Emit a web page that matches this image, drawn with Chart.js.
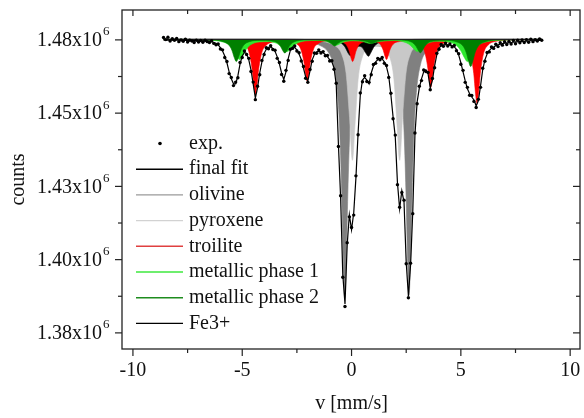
<!DOCTYPE html>
<html>
<head>
<meta charset="utf-8">
<script src="https://cdn.jsdelivr.net/npm/chart.js@4.4.1/dist/chart.umd.min.js"></script>
<style>
  html, body { margin: 0; padding: 0; background: #fff; }
  #wrap { width: 584px; height: 418px; }
</style>
</head>
<body>
<div id="wrap"><canvas id="spectrum" width="584" height="418"></canvas></div>
<script>
// velocity channels [mm/s]
const velocity = [
  -8.6,-8.5,-8.4,-8.3,-8.2,-8.1,-8.0,-7.9,-7.8,-7.7,
  -7.6,-7.5,-7.4,-7.3,-7.2,-7.1,-7.0,-6.9,-6.8,-6.7,
  -6.6,-6.5,-6.4,-6.3,-6.2,-6.1,-6.0,-5.9,-5.8,-5.7,
  -5.6,-5.5,-5.4,-5.3,-5.2,-5.1,-5.0,-4.9,-4.8,-4.7,
  -4.6,-4.5,-4.4,-4.3,-4.2,-4.1,-4.0,-3.9,-3.8,-3.7,
  -3.6,-3.5,-3.4,-3.3,-3.2,-3.1,-3.0,-2.9,-2.8,-2.7,
  -2.6,-2.5,-2.4,-2.3,-2.2,-2.1,-2.0,-1.9,-1.8,-1.7,
  -1.6,-1.5,-1.4,-1.3,-1.2,-1.1,-1.0,-0.9,-0.8,-0.7,
  -0.6,-0.5,-0.4,-0.3,-0.2,-0.1,0.0,0.1,0.2,0.3,
  0.4,0.5,0.6,0.7,0.8,0.9,1.0,1.1,1.2,1.3,
  1.4,1.5,1.6,1.7,1.8,1.9,2.0,2.1,2.2,2.3,
  2.4,2.5,2.6,2.7,2.8,2.9,3.0,3.1,3.2,3.3,
  3.4,3.5,3.6,3.7,3.8,3.9,4.0,4.1,4.2,4.3,
  4.4,4.5,4.6,4.7,4.8,4.9,5.0,5.1,5.2,5.3,
  5.4,5.5,5.6,5.7,5.8,5.9,6.0,6.1,6.2,6.3,
  6.4,6.5,6.6,6.7,6.8,6.9,7.0,7.1,7.2,7.3,
  7.4,7.5,7.6,7.7,7.8,7.9,8.0,8.1,8.2,8.3,
  8.4,8.5,8.6,8.7
];

// measured counts, in units of 10^3
const expCounts = [
  1475.8,1475.1,1475.9,1474.6,1475.4,1474.9,1475.5,1474.4,1475.0,1474.5,
  1475.2,1474.3,1474.9,1474.6,1474.1,1474.9,1474.3,1474.8,1474.2,1474.9,
  1474.4,1474.1,1474.7,1473.8,1473.3,1473.6,1471.9,1471.6,1469.0,1467.6,
  1463.5,1462.2,1459.4,1460.6,1462.1,1467.3,1469.0,1471.2,1470.0,1468.7,
  1464.2,1460.6,1454.6,1459.2,1463.1,1468.0,1470.0,1472.3,1472.0,1473.0,
  1471.7,1471.5,1468.7,1467.3,1463.2,1460.9,1464.6,1468.0,1471.8,1472.1,
  1472.9,1471.2,1470.6,1467.8,1465.9,1461.9,1460.5,1464.9,1467.7,1470.5,
  1470.4,1471.6,1470.5,1471.0,1469.6,1469.7,1467.8,1467.9,1465.0,1460.2,
  1438.6,1421.8,1394.0,1384.0,1405.8,1414.6,1411.0,1415.2,1428.6,1442.6,
  1456.9,1460.7,1462.8,1460.8,1460.5,1463.1,1466.6,1467.0,1468.7,1468.2,
  1469.0,1467.0,1466.3,1462.2,1456.8,1448.1,1442.5,1425.6,1417.9,1422.9,
  1420.3,1398.6,1387.0,1398.8,1415.7,1443.2,1453.2,1459.2,1461.1,1464.7,
  1464.2,1463.9,1458.0,1461.8,1465.5,1470.4,1471.8,1473.4,1472.8,1473.9,
  1472.9,1473.6,1472.6,1473.1,1471.3,1470.3,1466.7,1464.6,1460.5,1458.8,
  1456.1,1456.0,1454.0,1451.9,1454.7,1458.8,1465.3,1467.7,1470.7,1470.9,
  1472.6,1472.1,1473.5,1472.7,1474.0,1473.2,1474.4,1473.4,1474.5,1473.6,
  1474.8,1473.7,1474.9,1474.0,1475.0,1474.1,1475.1,1474.2,1475.2,1474.4,
  1475.1,1474.6,1475.3,1474.9
];

const fitCounts = [
  1474.9,1474.9,1474.9,1474.9,1474.9,1474.9,1474.9,1474.9,1474.8,1474.8,
  1474.8,1474.8,1474.8,1474.8,1474.8,1474.8,1474.7,1474.7,1474.7,1474.6,
  1474.6,1474.6,1474.4,1474.1,1473.8,1473.3,1472.4,1471.2,1469.5,1467.2,
  1464.1,1461.7,1460.0,1460.0,1462.7,1466.8,1469.5,1470.7,1470.4,1468.2,
  1464.8,1460.0,1455.2,1458.6,1463.7,1467.5,1470.4,1471.8,1472.5,1472.6,
  1472.1,1471.1,1469.2,1466.8,1463.7,1461.5,1464.1,1468.5,1471.4,1472.6,
  1472.4,1471.6,1470.2,1468.3,1465.4,1462.4,1461.0,1464.4,1468.2,1470.0,
  1470.9,1471.1,1470.9,1470.6,1470.0,1469.2,1468.3,1467.5,1465.4,1459.6,
  1439.2,1421.1,1394.8,1384.9,1405.0,1415.3,1410.2,1416.0,1427.9,1443.3,
  1456.2,1461.3,1462.2,1461.3,1460.0,1463.7,1466.1,1467.5,1468.2,1468.7,
  1468.5,1467.5,1465.8,1462.7,1456.2,1448.7,1441.9,1426.2,1417.3,1423.5,
  1419.7,1399.2,1387.6,1398.2,1416.3,1442.6,1453.8,1458.6,1461.7,1464.1,
  1464.8,1463.4,1458.6,1461.3,1466.1,1469.9,1472.3,1472.9,1473.3,1473.4,
  1473.3,1473.2,1473.0,1472.6,1471.8,1469.9,1467.2,1464.1,1461.0,1458.3,
  1456.6,1455.5,1454.5,1452.5,1454.2,1459.3,1464.8,1468.2,1470.2,1471.4,
  1472.1,1472.6,1473.0,1473.3,1473.5,1473.7,1473.9,1474.0,1474.0,1474.1,
  1474.2,1474.3,1474.3,1474.4,1474.5,1474.5,1474.6,1474.6,1474.7,1474.7,
  1474.7,1474.8,1474.8,1474.8
];

// off-resonance level the subspectra hang from
const baseline = 1475.2;

// subspectra
const olivineV = [-8.6,-5.0,-3.0,-2.0,-1.5,-1.0,-0.8,-0.65,-0.55,-0.45,-0.38,-0.31,-0.24,-0.17,-0.07,0.03,0.2,0.5,0.8,1.15,
  1.5,1.8,2.1,2.28,2.39,2.49,2.56,2.63,2.70,2.77,2.87,2.98,3.15,3.45,4.0,5.0,6.5,8.7];
const olivineC = [1475.1,1475.0,1474.8,1474.2,1473.3,1470.0,1465.6,1457.4,1445.6,1422.6,1399.8,1387.0,1399.7,1422.5,1445.6,1457.4,1466.0,1470.9,1472.4,1472.9,
  1472.5,1471.1,1466.6,1458.1,1445.7,1422.9,1400.4,1387.8,1400.4,1422.9,1445.7,1458.2,1466.5,1471.3,1473.7,1474.6,1475.0,1475.1];

const pyroxeneV = [-8.6,-3.05,-1.55,-1.05,-0.65,-0.45,-0.25,-0.1,0.04,0.15,0.3,0.5,0.8,1.12,
  1.44,1.74,1.94,2.09,2.2,2.34,2.49,2.69,2.89,3.29,3.79,5.29,8.7];
const pyroxeneC = [1475.2,1475.0,1474.6,1474.0,1472.4,1470.1,1463.6,1449.4,1433.9,1445.1,1461.5,1469.3,1472.3,1472.9,
  1472.3,1469.3,1461.5,1445.1,1433.9,1449.4,1463.6,1470.1,1472.4,1474.0,1474.6,1475.0,1475.2];

const troiliteV = [-8.6,-6.0,-5.2,-4.9,-4.7,-4.55,-4.47,-4.4,-4.33,-4.25,-4.1,-3.9,-3.6,-3.2,-2.8,
  -2.53,-2.33,-2.18,-2.1,-2.03,-1.96,-1.88,-1.73,-1.53,-1.2,-0.8,
  -0.45,-0.25,-0.1,-0.02,0.05,0.12,0.2,0.35,0.55,0.82,
  1.1,1.3,1.45,1.53,1.6,1.67,1.75,1.9,2.1,2.6,
  3.12,3.32,3.47,3.55,3.62,3.69,3.77,3.92,4.12,4.5,4.9,
  5.24,5.44,5.59,5.67,5.74,5.81,5.89,6.04,6.24,6.6,7.3,8.7];
const troiliteC = [1475.1,1475.0,1474.4,1473.4,1471.0,1465.1,1459.4,1456.3,1459.3,1465.0,1470.8,1473.2,1474.3,1474.6,1474.4,
  1473.7,1472.0,1467.6,1463.2,1460.9,1463.2,1467.6,1472.0,1473.7,1474.6,1474.7,
  1474.4,1473.4,1471.1,1468.8,1467.6,1468.8,1471.1,1473.4,1474.3,1474.6,
  1474.4,1473.6,1471.5,1469.4,1468.3,1469.4,1471.5,1473.5,1474.3,1474.6,
  1473.6,1471.5,1466.4,1461.4,1458.7,1461.4,1466.4,1471.4,1473.4,1474.3,1474.2,
  1473.0,1470.3,1463.5,1456.8,1453.3,1456.8,1463.6,1470.4,1473.2,1474.5,1475.0,1475.1];

const metal1V = [-8.6,-6.62,-6.02,-5.62,-5.42,-5.27,-5.12,-4.97,-4.82,-4.62,-4.22,
  -3.75,-3.45,-3.25,-3.1,-2.95,-2.8,-2.65,-2.45,-2.05,
  -1.62,-1.22,-1.02,-0.87,-0.72,-0.57,-0.42,-0.22,0.07,
  0.35,0.55,0.7,0.85,1.0,1.15,1.35,1.95,
  2.5,2.7,2.85,3.0,3.15,3.3,3.5,3.9,
  4.4,4.8,5.0,5.15,5.3,5.45,5.6,5.8,6.2,6.8,8.7];
const metal1C = [1475.1,1474.9,1474.5,1473.4,1471.8,1469.7,1468.3,1469.7,1471.7,1473.3,1474.3,
  1474.4,1473.9,1473.0,1471.8,1471.0,1471.8,1473.0,1474.0,1474.7,
  1474.8,1474.6,1474.1,1473.5,1473.1,1473.5,1474.1,1474.5,1474.7,
  1474.6,1474.4,1474.0,1473.8,1474.0,1474.3,1474.5,1474.8,
  1474.0,1473.1,1471.9,1471.0,1471.8,1473.0,1473.9,1474.5,
  1474.3,1473.1,1471.3,1469.1,1467.6,1469.1,1471.4,1473.2,1474.4,1474.9,1475.1];

const metal2V = [-8.6,-6.5,-5.87,-5.62,-5.47,-5.37,-5.27,-5.17,-5.07,-4.92,-4.67,
  -4.2,-3.65,-3.4,-3.25,-3.15,-3.05,-2.95,-2.85,-2.7,-2.45,
  -1.9,-1.38,-1.13,-0.98,-0.88,-0.78,-0.68,-0.58,-0.43,-0.18,
  0.07,0.32,0.57,0.72,0.82,0.92,1.02,1.12,1.27,1.52,
  2.0,2.55,2.8,2.95,3.05,3.15,3.25,3.35,3.5,3.75,
  4.3,4.85,5.1,5.25,5.35,5.45,5.55,5.65,5.8,6.05,6.5,7.5,8.7];
const metal2C = [1475.2,1475.0,1474.4,1473.3,1471.4,1469.1,1467.6,1469.1,1471.3,1473.3,1474.4,
  1474.8,1474.6,1474.0,1472.8,1471.4,1470.5,1471.4,1472.8,1474.0,1474.7,
  1475.0,1474.9,1474.6,1474.0,1473.4,1472.9,1473.4,1474.0,1474.6,1474.9,
  1475.0,1474.9,1474.6,1474.4,1474.0,1473.7,1474.0,1474.4,1474.6,1474.9,
  1475.0,1474.7,1474.0,1472.8,1471.5,1470.6,1471.5,1472.8,1474.0,1474.6,
  1474.8,1474.2,1472.9,1470.6,1467.8,1465.9,1467.8,1470.6,1472.9,1474.2,1474.9,1475.1,1475.2];

const fe3V = [-8.6,-3.0,-1.5,-1.0,-0.7,-0.45,-0.3,-0.15,-0.06,0.05,0.2,0.355,0.5,0.65,0.77,0.9,1.05,1.3,1.6,2.2,3.5,8.7];
const fe3C = [1475.2,1475.2,1475.0,1474.8,1474.5,1473.8,1472.6,1470.4,1469.6,1470.4,1472.2,1472.8,1472.3,1470.5,1469.4,1470.9,1472.9,1474.2,1474.7,1475.0,1475.2,1475.2];

// axes
const xMajorTicks = [-10, -5, 0, 5, 10];
const xMinorTicks = [-7.5, -2.5, 2.5, 7.5];
const yMajorTicks = [1375, 1400, 1425, 1450, 1475];
const yTickLabels = ['1.38', '1.40', '1.43', '1.45', '1.48'];
const yMinorTicks = [1387.5, 1412.5, 1437.5, 1462.5];

const pts = (xs, ys) => xs.map((x, i) => ({ x, y: ys[i] }));

function subspectrum(label, xs, ys, fillColor, legendColor, order) {
  return {
    label, order, legendColor,
    data: pts(xs, ys),
    borderColor: fillColor,
    backgroundColor: fillColor,
    borderWidth: 0.6,
    pointRadius: 0,
    cubicInterpolationMode: 'monotone',
    fill: { value: baseline }
  };
}

const serif = '"Liberation Serif", "Times New Roman", serif';

const frameAndLegend = {
  id: 'frameAndLegend',
  afterDraw(chart) {
    const { ctx, chartArea: a, scales: { x, y } } = chart;
    ctx.save();
    ctx.strokeStyle = '#222';
    ctx.lineWidth = 1.3;
    ctx.strokeRect(a.left, a.top, a.right - a.left, a.bottom - a.top);

    const seg = (x1, y1, x2, y2) => { ctx.beginPath(); ctx.moveTo(x1, y1); ctx.lineTo(x2, y2); ctx.stroke(); };
    ctx.lineWidth = 1.2;
    xMajorTicks.forEach(v => {
      const p = x.getPixelForValue(v);
      seg(p, a.bottom, p, a.bottom + 7);
      seg(p, a.top, p, a.top + 6);
    });
    xMinorTicks.forEach(v => {
      const p = x.getPixelForValue(v);
      seg(p, a.bottom, p, a.bottom + 4);
      seg(p, a.top, p, a.top + 4);
    });
    yMajorTicks.forEach(v => {
      const p = y.getPixelForValue(v);
      seg(a.left - 7, p, a.left, p);
      seg(a.right - 7, p, a.right, p);
    });
    yMinorTicks.forEach(v => {
      const p = y.getPixelForValue(v);
      seg(a.left - 4, p, a.left, p);
      seg(a.right - 4, p, a.right, p);
    });

    ctx.fillStyle = '#111';
    ctx.font = '20px ' + serif;
    ctx.textAlign = 'center';
    ctx.textBaseline = 'middle';
    xMajorTicks.forEach(v => ctx.fillText(String(v), x.getPixelForValue(v), a.bottom + 22));

    yMajorTicks.forEach((v, i) => {
      const p = y.getPixelForValue(v);
      ctx.font = '20px ' + serif;
      ctx.textAlign = 'right';
      ctx.fillText(yTickLabels[i] + 'x10', a.left - 20, p + 1);
      ctx.font = '13px ' + serif;
      ctx.textAlign = 'left';
      ctx.fillText('6', a.left - 19, p - 8);
    });

    ctx.font = '20px ' + serif;
    ctx.textAlign = 'center';
    ctx.fillText('v [mm/s]', x.getPixelForValue(0), a.bottom + 55);
    ctx.save();
    ctx.translate(19, (a.top + a.bottom) / 2);
    ctx.rotate(-Math.PI / 2);
    ctx.fillText('counts', 0, 0);
    ctx.restore();

    // legend inside the frame
    const rows = chart.data.datasets.filter(d => d.legendColor);
    rows.forEach((d, i) => {
      const ry = 143.5 + i * 25.7;
      ctx.strokeStyle = d.legendColor;
      ctx.fillStyle = d.legendColor;
      if (d.showLine === false) {
        ctx.beginPath(); ctx.arc(160, ry, 1.8, 0, Math.PI * 2); ctx.fill();
      } else {
        ctx.lineWidth = 1.4;
        seg(136, ry, 183, ry);
      }
      ctx.fillStyle = '#111';
      ctx.textAlign = 'left';
      ctx.font = '20px ' + serif;
      ctx.fillText(d.label, 189, ry);
    });
    ctx.restore();
  }
};

new Chart(document.getElementById('spectrum'), {
  type: 'line',
  data: {
    datasets: [
      {
        label: 'exp.', order: 0, legendColor: '#000',
        data: pts(velocity, expCounts),
        showLine: false, pointRadius: 1.7, pointBorderWidth: 0,
        pointBackgroundColor: '#000', borderColor: '#000'
      },
      {
        label: 'final fit', order: 1, legendColor: '#000',
        data: pts(velocity, fitCounts),
        borderColor: '#000', borderWidth: 1.2, pointRadius: 0, tension: 0, fill: false
      },
      subspectrum('olivine', olivineV, olivineC, '#808080', '#9a9a9a', 8),
      subspectrum('pyroxene', pyroxeneV, pyroxeneC, '#c8c8c8', '#d2d2d2', 7),
      subspectrum('troilite', troiliteV, troiliteC, '#ff0000', '#e04040', 5),
      subspectrum('metallic phase 1', metal1V, metal1C, '#2ee82e', '#3ee83e', 4),
      subspectrum('metallic phase 2', metal2V, metal2C, '#008000', '#1e8c1e', 3),
      subspectrum('Fe3+', fe3V, fe3C, '#000000', '#000', 6),
      {
        label: 'baseline', order: 2,
        data: pts([velocity[0], velocity[velocity.length - 1]], [baseline, baseline]),
        borderColor: '#222', borderWidth: 1.2, pointRadius: 0, fill: false
      }
    ]
  },
  options: {
    responsive: false,
    animation: false,
    events: [],
    layout: { padding: { left: 122, right: 1, top: 10, bottom: 69 } },
    scales: {
      x: { type: 'linear', min: -10.5, max: 10.45, display: false },
      y: { type: 'linear', min: 1369.5, max: 1485.2, display: false }
    },
    plugins: { legend: { display: false }, tooltip: { enabled: false } }
  },
  plugins: [frameAndLegend]
});
</script>
</body>
</html>
